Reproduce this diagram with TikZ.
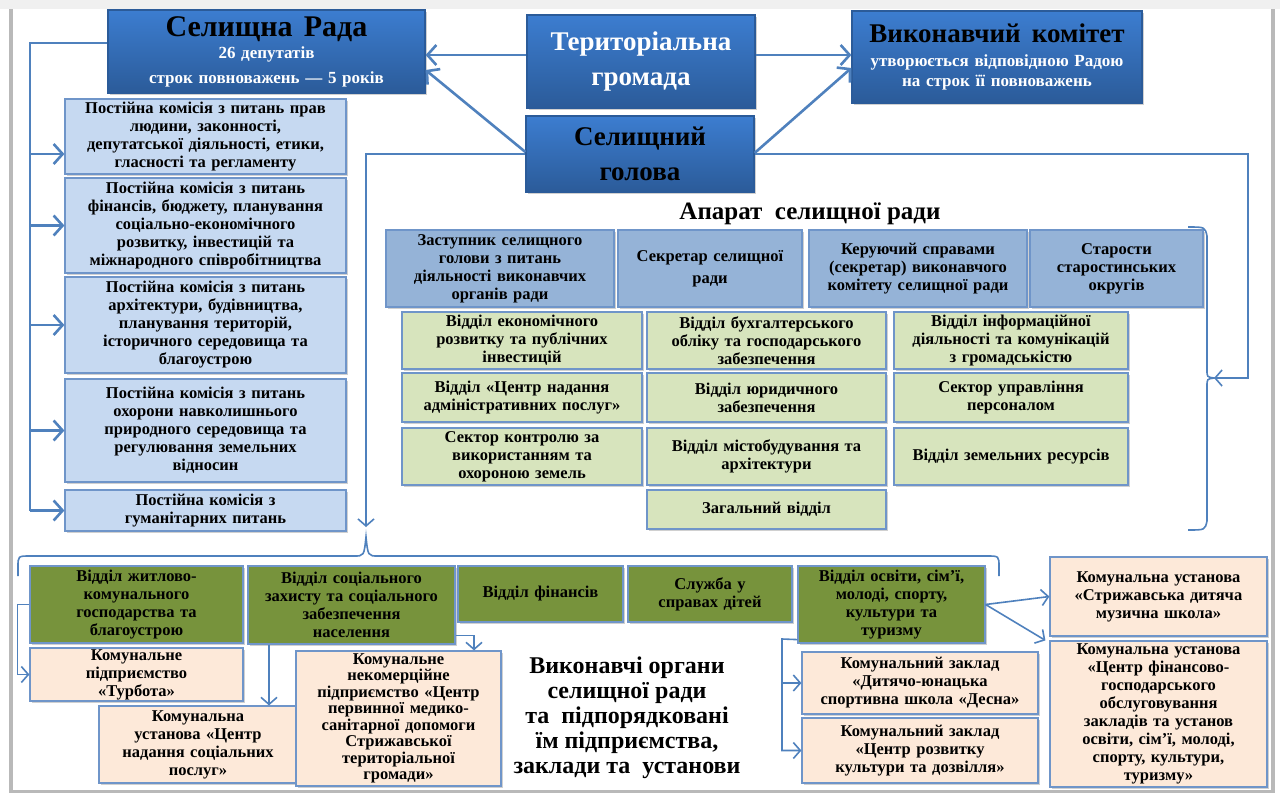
\documentclass[tikz,border=0pt]{standalone}
\usepackage{fontspec}
\setmainfont{Liberation Serif}
\usetikzlibrary{arrows.meta,shadows}

\definecolor{lnblue}{HTML}{4F81BD}
\definecolor{bxedge}{HTML}{6F95C9}
\definecolor{topA}{HTML}{3C7DD0}
\definecolor{topB}{HTML}{2B5B99}
\definecolor{komfill}{HTML}{C6D9F1}
\definecolor{aparfill}{HTML}{95B3D7}
\definecolor{ltgreen}{HTML}{D7E4BD}
\definecolor{dkgreen}{HTML}{77933C}
\definecolor{peach}{HTML}{FDE9D9}

\tikzset{
  plate/.style={draw=bxedge, line width=1.2pt, align=center, inner xsep=2pt, inner ysep=1pt,
    font=\bfseries\fontsize{16.5}{18}\selectfont,
    drop shadow={shadow xshift=1.5pt, shadow yshift=-1.5pt, opacity=0.3, fill=black!60}},
  topbox/.style={plate, draw=topB, top color=topA, bottom color=topB},
  kombox/.style={plate, fill=komfill},
  aparbox/.style={plate, fill=aparfill},
  viddil/.style={plate, fill=ltgreen},
  organ/.style={plate, fill=dkgreen},
  zaklad/.style={plate, fill=peach},
  ln/.style={draw=lnblue, line width=1.6pt},
  lnarr/.style={ln, -{Straight Barb[length=7pt,width=16pt]}},
  thk/.style={draw=lnblue, line width=2.6pt},
  thkarr/.style={thk, -{Straight Barb[length=9pt,width=20pt]}},
}

\begin{document}
\begin{tikzpicture}[x=1pt, y=-1pt]
	%%%%% FRAME %%%%%
	\useasboundingbox (0,0) rectangle (1280,793);
	\fill[white] (0,0) rectangle (1280,793);
	\fill[gray!12] (0,0) rectangle (1280,9);
	\draw[gray!55, line width=4pt] (11,9) -- (11,793);
	\draw[gray!55, line width=4pt] (1273,9) -- (1273,793);
	\draw[gray!55, line width=3pt] (11,791) -- (1273,791);
	
	%%%%% TOP %%%%%
	\node[topbox, text=white, text width=313pt, minimum height=83pt, font=\bfseries\fontsize{17}{25}\selectfont] (rada) at (266.5,51.5)
		{{\color{black}\fontsize{30}{30}\selectfont Селищна\ \ Рада}\\[-3pt] 26 депутатів\\ строк повноважень — 5 років};
	\node[topbox, text=white, text width=224pt, minimum height=93pt, font=\bfseries\fontsize{27}{35}\selectfont] (gromada) at (641,61.5)
		{Територіальна\\громада};
	\node[topbox, text=white, text width=286pt, minimum height=92pt, font=\bfseries\fontsize{17}{20}\selectfont] (vykon) at (997,57)
		{{\color{black}\fontsize{27}{27}\selectfont Виконавчий\ \ комітет}\\[4pt] утворюється відповідною Радою\\ на строк її повноважень};
	\node[topbox, text width=224pt, minimum height=76pt, font=\bfseries\fontsize{27}{35}\selectfont] (golova) at (640,154)
		{Селищний\\голова};
	
	\draw[thkarr] ([yshift=6.5pt]gromada.west) -- ([yshift=-3.5pt]rada.east);
	\draw[thkarr] ([yshift=2pt]golova.west) -- ([yshift=-18.5pt]rada.east);
	\draw[thkarr] ([yshift=6.5pt]gromada.east) -- ([yshift=2pt]vykon.west);
	\draw[thkarr] ([yshift=1pt]golova.east) -- ([yshift=-11pt]vykon.west);
	
	%%%%% COMMISSIONS %%%%%
	\node[kombox, text width=277pt, minimum height=75pt] (k1) at (205.5,136.5)
		{Постійна комісія з питань прав\\людини, законності,\\депутатської діяльності, етики,\\гласності та регламенту};
	\node[kombox, text width=277pt, minimum height=95pt] (k2) at (205.5,225.5)
		{Постійна комісія з питань\\фінансів, бюджету, планування\\соціально-економічного\\розвитку, інвестицій та\\міжнародного співробітництва};
	\node[kombox, text width=277pt, minimum height=96pt] (k3) at (205.5,325)
		{Постійна комісія з питань\\архітектури, будівництва,\\планування територій,\\історичного середовища та\\благоустрою};
	\node[kombox, text width=277pt, minimum height=103pt] (k4) at (205.5,430.5)
		{Постійна комісія з питань\\охорони навколишнього\\природного середовища та\\регулювання земельних\\відносин};
	\node[kombox, text width=277pt, minimum height=41pt] (k5) at (205.5,510.5)
		{Постійна комісія з\\гуманітарних питань};
	
	\coordinate (radaL) at (30,43);
	\draw[thk] ([yshift=8.5pt]rada.west) -- (radaL) -- (radaL |- k5.west);
	\draw[thkarr] ([yshift=-17.5pt]k1.west -| radaL) -- ([yshift=-17.5pt]k1.west);
	\draw[thkarr] (k2.west -| radaL) -- (k2.west);
	\draw[thkarr] (k3.west -| radaL) -- (k3.west);
	\draw[thkarr] (k4.west -| radaL) -- (k4.west);
	\draw[thkarr] (k5.west -| radaL) -- (k5.west);
	
	%%%%% APARAT %%%%%
	\node[font=\bfseries\fontsize{25}{25}\selectfont] (aparat) at (810,214) {Апарат\ \ селищної ради};
	
	\node[aparbox, text width=224pt, minimum height=77pt] (a1) at (500,268.5)
		{Заступник селищного\\голови з питань\\діяльності виконавчих\\органів ради};
	\node[aparbox, text width=180pt, minimum height=77pt] (a2) at (710,268.5)
		{Секретар селищної\\[4pt]ради};
	\node[aparbox, text width=214pt, minimum height=77pt] (a3) at (918,268.5)
		{Керуючий справами\\(секретар) виконавчого\\комітету селищної ради};
	\node[aparbox, text width=169pt, minimum height=77pt] (a4) at (1116.5,268.5)
		{Старости\\старостинських\\округів};
	
	\node[viddil, text width=236pt, minimum height=57pt] (g11) at (522,340.5)
		{Відділ економічного\\розвитку та публічних\\інвестицій};
	\node[viddil, text width=235pt, minimum height=57pt] (g12) at (766.5,340.5)
		{Відділ бухгалтерського\\обліку та господарського\\забезпечення};
	\node[viddil, text width=230pt, minimum height=57pt] (g13) at (1011,340.5)
		{Відділ інформаційної\\діяльності та комунікацій\\з громадськістю};
	
	\node[viddil, text width=236pt, minimum height=49pt] (g21) at (522,397.5)
		{Відділ «Центр надання\\адміністративних послуг»};
	\node[viddil, text width=235pt, minimum height=49pt] (g22) at (766.5,397.5)
		{Відділ юридичного\\забезпечення};
	\node[viddil, text width=230pt, minimum height=49pt] (g23) at (1011,397.5)
		{Сектор управління\\персоналом};
	
	\node[viddil, text width=236pt, minimum height=57pt] (g31) at (522,456.5)
		{Сектор контролю за\\використанням та\\охороною земель};
	\node[viddil, text width=235pt, minimum height=57pt] (g32) at (766.5,456.5)
		{Відділ містобудування та\\архітектури};
	\node[viddil, text width=230pt, minimum height=57pt] (g33) at (1011,456.5)
		{Відділ земельних ресурсів};
	
	\node[viddil, text width=235pt, minimum height=39pt] (g42) at (766.5,509.5)
		{Загальний відділ};
	
	\coordinate (brtip) at (1214,378);
	\draw[ln] (1188,227) .. controls (1205,227) .. (1207,236) -- (1207,370) .. controls (1207,377) .. (brtip)
		.. controls (1207,379) .. (1207,386) -- (1207,521) .. controls (1205,530) .. (1188,530);
	\draw[lnarr] (golova.east) -- (1248,0 |- golova.east) |- (brtip);
	
	%%%%% BOTTOM %%%%%
	\coordinate (bbtip) at (366,537);
	\draw[ln] (18,576) -- (18,567) .. controls (18,556) .. (30,556) -- (354,556) .. controls (364,556) .. (bbtip)
		.. controls (368,556) .. (378,556) -- (987,556) .. controls (999,556) .. (999,567) -- (999,576);
	\draw[lnarr, shorten >=10pt] (golova.west) -| (bbtip);
	
	\node[organ, text width=209pt, minimum height=77pt] (b1) at (136.5,604.5)
		{Відділ житлово-\\комунального\\господарства та\\благоустрою};
	\node[organ, text width=203pt, minimum height=78pt] (b2) at (351.5,605)
		{Відділ соціального\\захисту та соціального\\забезпечення\\населення};
	\node[organ, text width=161pt, minimum height=56pt] (b3) at (540.5,594)
		{Відділ фінансів};
	\node[organ, text width=160pt, minimum height=56pt] (b4) at (710,594)
		{Служба у\\справах дітей};
	\node[organ, text width=183pt, minimum height=77pt] (b5) at (891.5,604.5)
		{Відділ освіти, сім’ї,\\молоді, спорту,\\культури та\\туризму};
	
	\node[zaklad, text width=209pt, minimum height=53pt] (p1) at (136.5,674.5)
		{Комунальне\\підприємство\\«Турбота»};
	\node[zaklad, text width=194pt, minimum height=77pt] (p2) at (198,744.5)
		{Комунальна\\установа «Центр\\надання соціальних\\послуг»};
	\node[zaklad, text width=201pt, minimum height=135pt, inner ysep=0pt, font=\bfseries\fontsize{16.5}{16.5}\selectfont] (p3) at (398.5,718.5)
		{Комунальне\\некомерційне\\підприємство «Центр\\первинної медико-\\санітарної допомоги\\Стрижавської\\територіальної\\громади»};
	
	\node[zaklad, text width=232pt, minimum height=62pt] (e1) at (920,683)
		{Комунальний заклад\\«Дитячо-юнацька\\спортивна школа «Десна»};
	\node[zaklad, text width=232pt, minimum height=65pt] (e2) at (920,750.5)
		{Комунальний заклад\\«Центр розвитку\\культури та дозвілля»};
	\node[zaklad, text width=213pt, minimum height=79pt] (m1) at (1158.5,596.5)
		{Комунальна установа\\«Стрижавська дитяча\\музична школа»};
	\node[zaklad, text width=213pt, minimum height=146pt] (m2) at (1158.5,714)
		{Комунальна установа\\«Центр фінансово-\\господарського\\обслуговування\\закладів та установ\\освіти, сім’ї, молоді,\\спорту, культури,\\туризму»};
	
	\node[align=center, font=\bfseries\fontsize{24}{25}\selectfont] (vorg) at (627,718)
		{Виконавчі органи\\селищної ради\\та\ \ підпорядковані\\їм підприємства,\\заклади та\ \ установи};
	
	\draw[lnarr] (b1.west) -- ++(-12,0) |- (p1.west);
	\draw[lnarr] (269,0 |- b2.south) -- (269,0 |- p2.north);
	\draw[lnarr] ([yshift=9pt]b2.south east) -| (474,0 |- p3.north);
	
	\coordinate (b5L) at (782,639);
	\draw[lnarr] ([yshift=4pt]b5.south west) -- (b5L) |- (e2.west);
	\draw[lnarr] (b5L |- e1.west) -- (e1.west);
	\draw[lnarr] (b5.east) -- (m1.west);
	\draw[lnarr] (b5.east) -- ([xshift=-4pt]m2.north west);
	
\end{tikzpicture}
\end{document}
